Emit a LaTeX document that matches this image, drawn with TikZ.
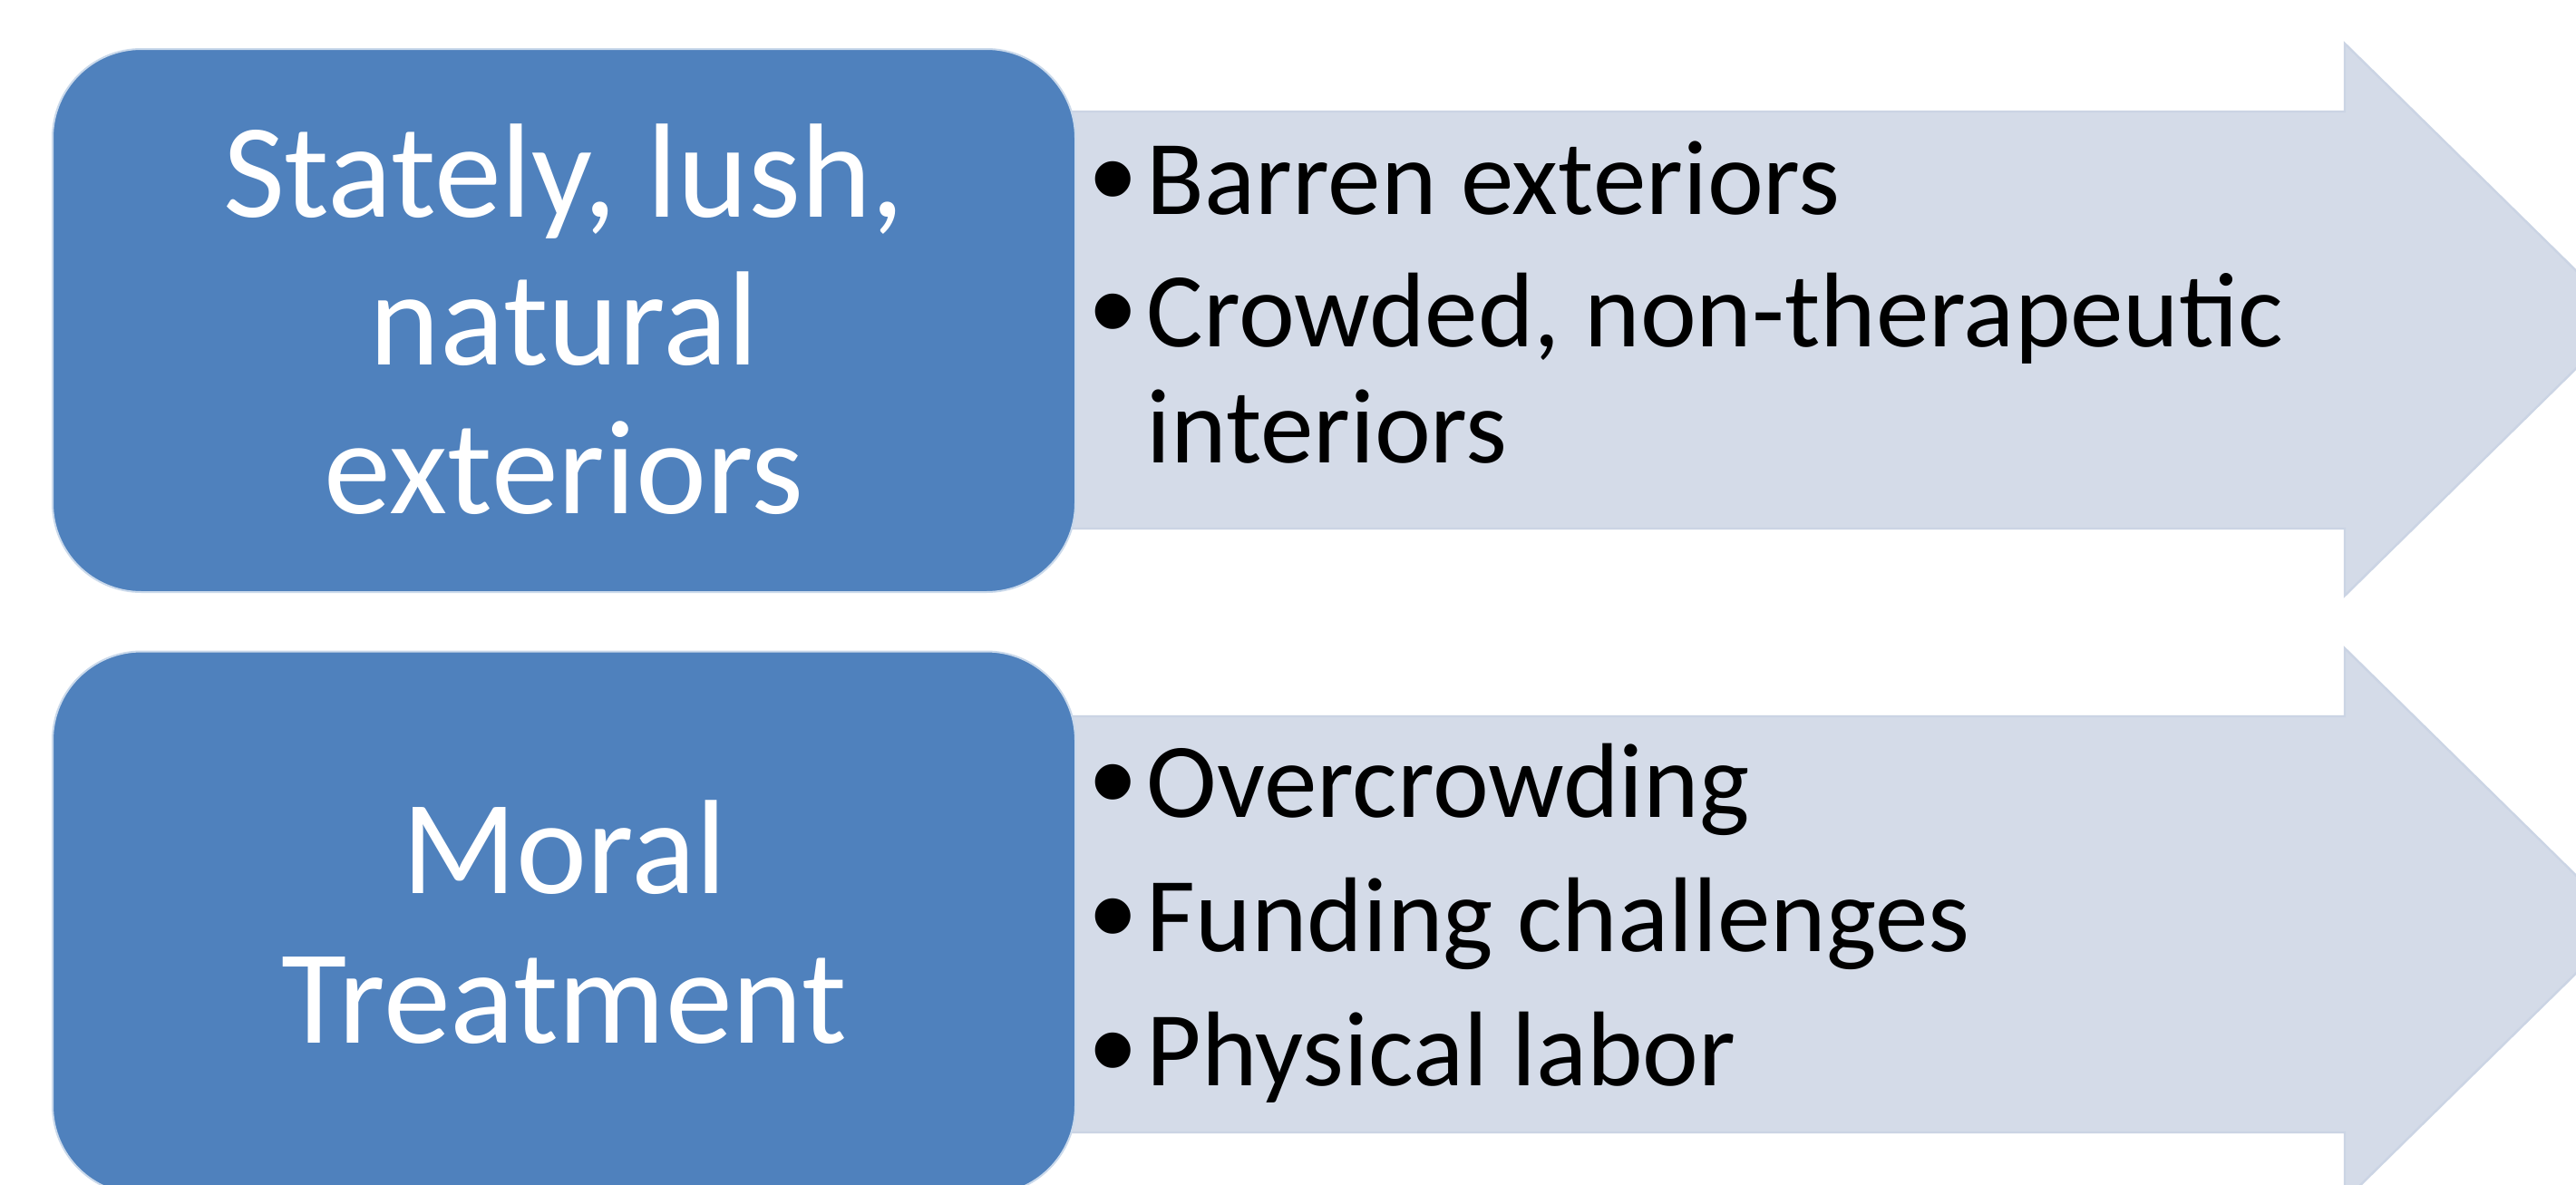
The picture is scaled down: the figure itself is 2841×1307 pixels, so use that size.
\documentclass[tikz,border=0pt]{standalone}
\usepackage{fontspec}
\setmainfont{Carlito}
\newfontfamily\bulletfont{Liberation Sans}
\definecolor{boxblue}{RGB}{79,129,189}
\definecolor{arrowfill}{RGB}{212,219,232}
\definecolor{arrowedge}{RGB}{203,212,228}
% bullet mark with a fixed indent before the item text
\newcommand{\itemmark}{\makebox[15.5pt][l]{\raisebox{-2.3pt}{\bulletfont\fontsize{36}{36}\selectfont •}}}
\newcommand{\itemgap}{\hspace*{15.5pt}}
\begin{document}
\begin{tikzpicture}[x=0.25pt,y=-0.25pt,
  bluebox/.style={draw=white!70!boxblue, line width=0.5pt, fill=boxblue,
    rounded corners=24.5pt, minimum width=282pt, minimum height=149.75pt,
    inner sep=0pt},
  boxtext/.style={text=white, align=center, inner sep=0pt,
    font=\fontsize{37}{40.75}\selectfont},
  arrowshape/.style={fill=arrowfill, draw=arrowedge, line width=0.6pt},
  itemtext/.style={anchor=base west, inner sep=0pt,
    font=\fontsize{29.3}{32}\selectfont},
]
\clip (0,0) rectangle (2841,1307);
\fill[white] (0,0) rectangle (2841,1307);

% ---- upper row ----
\draw[arrowshape] (1150,123) -- (2586,123) -- (2586,48)
  -- (2896,352.5) -- (2586,657) -- (2586,583) -- (1150,583) -- cycle;
\node[bluebox] (b1) at (622,353.5) {};
\node[boxtext, anchor=base] (t1a) at (622,239) {Stately, lush,};
\node[boxtext, anchor=base] (t1b) at (622,402) {natural};
\node[boxtext, anchor=base] (t1c) at (622,566) {exteriors};
\node[itemtext] (i1a) at (1202,236) {\itemmark Barren exteriors};
\node[itemtext] (i1b) at (1202,382) {\itemmark Crowded, non-therapeutic};
\node[itemtext] (i1c) at (1202,510) {\itemgap interiors};

% ---- lower row ----
\draw[arrowshape] (1150,790) -- (2586,790) -- (2586,715)
  -- (2896,1019.5) -- (2586,1324) -- (2586,1249) -- (1150,1249) -- cycle;
\node[bluebox] (b2) at (622,1018) {};
\node[boxtext, anchor=base] (t2a) at (622,985) {Moral};
\node[boxtext, anchor=base] (t2b) at (622,1150) {Treatment};
\node[itemtext] (i2a) at (1202,901) {\itemmark Overcrowding};
\node[itemtext] (i2b) at (1202,1049) {\itemmark Funding challenges};
\node[itemtext] (i2c) at (1202,1197) {\itemmark Physical labor};
\end{tikzpicture}
\end{document}
